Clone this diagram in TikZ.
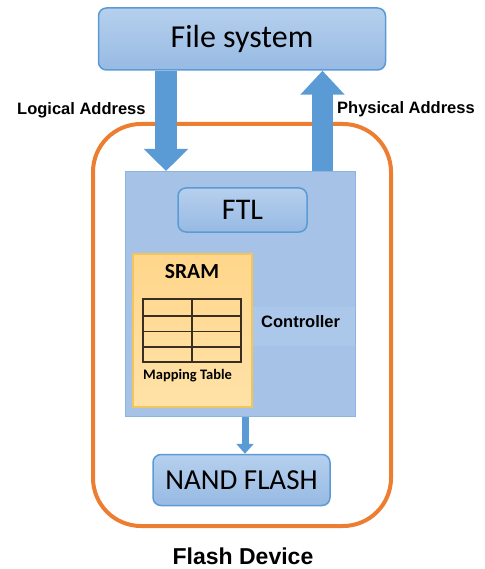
\documentclass[tikz,border=0pt]{standalone}
\usepackage{fontspec}
\setmainfont{Liberation Sans}
\newfontfamily\calfont{Carlito}
\usetikzlibrary{arrows.meta,calc}
\definecolor{arrblue}{HTML}{5B9BD5}
\definecolor{boxtop}{HTML}{B6D0EE}
\definecolor{boxbot}{HTML}{97BAE3}
\definecolor{ctlfill}{HTML}{A6C3E7}
\definecolor{ctlline}{HTML}{8DB3E2}
\definecolor{orng}{HTML}{ED7D31}
\definecolor{sramtop}{HTML}{FFD68A}
\definecolor{srambot}{HTML}{FFE2A8}
\definecolor{sramline}{HTML}{F2C55C}
\definecolor{tabline}{HTML}{3A2E22}
\tikzset{
  bluebox/.style={draw=arrblue, line width=1.5pt, rounded corners=8pt, top color=boxtop, bottom color=boxbot, inner sep=0pt, font=\calfont\fontsize{30}{30}\selectfont},
  blockarrow/.style={draw=arrblue, line width=#1},
  lbl/.style={font=\bfseries\fontsize{16.5}{18}\selectfont, inner sep=0pt},
}
\begin{document}
\begin{tikzpicture}[x=1pt,y=-1pt]
\useasboundingbox (0,0) rectangle (484,569);
% orange device outline
\node[draw=orng, line width=4pt, rounded corners=48pt, minimum width=298pt, minimum height=402pt, inner sep=0pt] (dev) at (242,325) {};
% file system
\node[bluebox, minimum width=287pt, minimum height=62pt, font=\calfont\fontsize{32}{32}\selectfont] (fs) at (242,39) {File system};
% controller
\node[draw=ctlline, line width=1pt, fill=ctlfill, minimum width=230pt, minimum height=245pt, inner sep=0pt] (ctl) at (240,294) {};
\fill[boxtop!30!ctlfill] (252,307) rectangle (354.5,346);
\node[lbl, anchor=west] (ctltxt) at (261,322) {Controller};
% FTL
\node[bluebox, minimum width=129pt, minimum height=44pt] (ftl) at (242.5,210) {FTL};
% SRAM
\node[draw=sramline, line width=1.5pt, top color=sramtop, bottom color=srambot, minimum width=119pt, minimum height=153pt, inner sep=0pt] (sram) at (192.5,330.5) {};
\node[font=\calfont\bfseries\fontsize{21.5}{22}\selectfont, inner sep=0pt] (sramtxt) at (192,272) {SRAM};
% mapping table
\node[draw=tabline, line width=1.2pt, minimum width=98pt, minimum height=63pt, inner sep=0pt] (tab) at (192,330.5) {};
\draw[tabline, line width=1.2pt] (tab.north) -- (tab.south);
\foreach \yy in {316,331.5,347} \draw[tabline, line width=1.2pt] (tab.west |- 0,\yy) -- (tab.east |- 0,\yy);
\node[font=\calfont\bfseries\fontsize{14.5}{15}\selectfont, inner sep=0pt, anchor=west] (maptxt) at (143,376) {Mapping Table};
% NAND
\node[bluebox, minimum width=177pt, minimum height=51pt, font=\calfont\fontsize{29}{29}\selectfont] (nand) at (241.5,480) {NAND FLASH};
% arrows
\coordinate (lx) at (166,0);
\coordinate (px) at (322.5,0);
\coordinate (nx) at (245,0);
\draw[blockarrow=22pt, -{Triangle[width=43pt,length=22pt]}] (fs.south -| lx) -- (ctl.north -| lx);
\draw[blockarrow=21pt, -{Triangle[width=43pt,length=24pt]}] (ctl.north -| px) -- (fs.south -| px);
\draw[blockarrow=7pt, -{Triangle[width=17pt,length=10pt]}] (ctl.south -| nx) -- (nand.north -| nx);
% labels
\node[lbl, anchor=west] (logl) at (17,110) {Logical Address};
\node[lbl, anchor=west] (phyl) at (337,109) {Physical Address};
\node[font=\bfseries\fontsize{23}{25}\selectfont, inner sep=0pt] (devl) at (243,556) {Flash Device};
\end{tikzpicture}
\end{document}
